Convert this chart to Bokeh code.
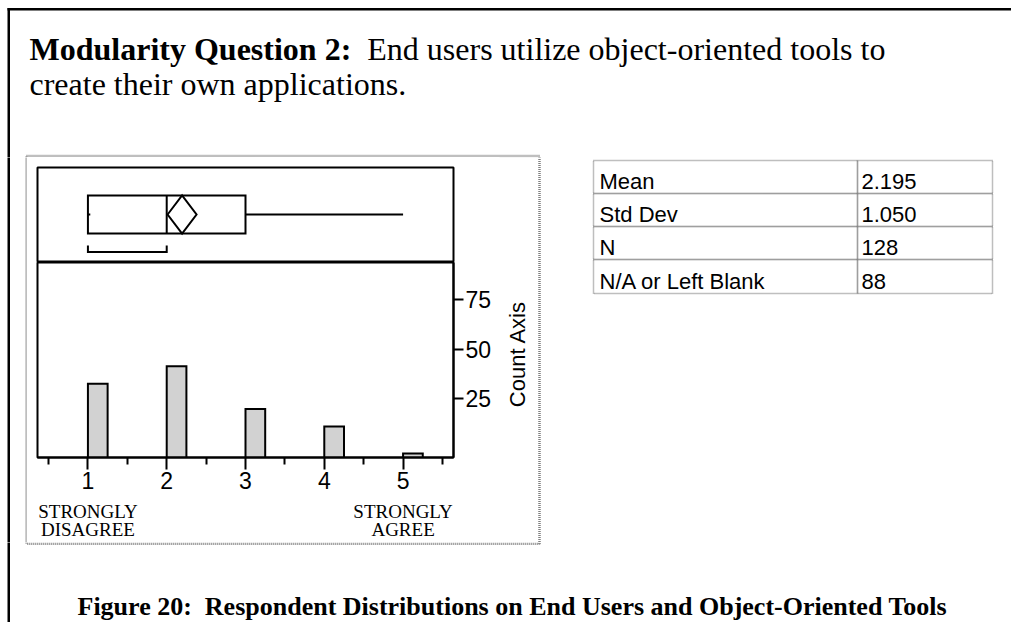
import math
import numpy as np
from bokeh.plotting import figure
from bokeh.layouts import column, row
from bokeh.models import Range1d, LinearAxis, FixedTicker
from bokeh.core.properties import value
from bokeh.embed import file_html
from bokeh.resources import INLINE

# ---------------- data ----------------
scores = [1, 2, 3, 4, 5]
counts = [38, 47, 25, 16, 2]
count_ticks = [25, 50, 75]
count_axis_label = "Count Axis"
stat_names = ["Mean", "Std Dev", "N", "N/A or Left Blank"]
stat_values = ["2.195", "1.050", "128", "88"]
mean_value = 2.195
std_value = 1.050
n_value = 128
anchor_top = {1: "STRONGLY", 5: "STRONGLY"}
anchor_bottom = {1: "DISAGREE", 5: "AGREE"}
title_bold = "Modularity Question 2:"
title_rest = "End users utilize object-oriented tools to"
title_line2 = "create their own applications."
caption_text = "Figure 20:\u00a0 Respondent Distributions on End Users and Object-Oriented Tools"

# derived box-plot statistics
obs = np.repeat(scores, counts)
q1, med, q3 = (float(v) for v in np.percentile(obs, [25, 50, 75]))
lo, hi = float(obs.min()), float(obs.max())
ci = 1.979 * std_value / math.sqrt(n_value)
half = len(obs) // 2
widths = obs[half - 1:] - obs[:len(obs) - half + 1]
k = int(np.argmin(widths))
sh_lo, sh_hi = float(obs[k]), float(obs[k + half - 1])

# ---------------- layout (canvas pixels) ----------------
W, H = 1011, 622
CL, CR = 27, 499          # chart column
FL, FR = 37, 453          # chart frame
FT, FD, FB = 167, 262, 457  # frame top, divider, baseline
Y_MID0, Y_MID1 = 157, 542  # middle row
SERIF = "Liberation Serif"
SANS = "Liberation Sans"
GREY = "#7f7f7f"


def base_fig(w, h, xr, yr, **kw):
    f = figure(width=w, height=h, x_range=xr, y_range=yr, title=None,
               toolbar_location=None, output_backend="svg",
               x_axis_location=None, y_axis_location=None, **kw)
    f.xgrid.visible = False
    f.ygrid.visible = False
    f.background_fill_color = "white"
    f.border_fill_color = "white"
    return f


def deco(x0, x1, y0, y1):
    f = base_fig(x1 - x0, y1 - y0, Range1d(x0, x1), Range1d(y1, y0),
                 min_border_left=0, min_border_right=0, min_border_top=0, min_border_bottom=0)
    f.outline_line_color = None
    # outer border (top and left)
    f.quad(left=[7, 7], right=[W, 9.5], top=[7.5, 7.5], bottom=[10, H],
           fill_color="black", line_color=None)
    # grey frame round the report
    f.quad(left=[26], right=[539], top=[155.5], bottom=[Y_MID1 + 1.3],
           fill_color=None, line_color=GREY, line_width=2.5, line_dash="1 1")
    return f


def txt(f, x, y, s, size, font=SANS, style="normal", align="left", **kw):
    f.text(x=[x], y=[y], text=[s], text_font=value(font), text_font_size=value(f"{size}px"),
           text_font_style=style, text_align=align, text_color="black", **kw)


# ---- top strip: title ----
top = deco(0, W, 0, Y_MID0)
TS = 32
txt(top, 29, 48, title_bold, TS, font=SERIF, style="bold", text_baseline="alphabetic")
txt(top, 29 + 10.556 * TS, 48, title_rest, TS, font=SERIF, text_baseline="alphabetic")
txt(top, 29, 83, title_line2, TS, font=SERIF, text_baseline="alphabetic")

# ---- left strip ----
left = deco(0, CL, Y_MID0, Y_MID1)

# ---- right side: count-axis title and statistics table ----
right = deco(CR, W, Y_MID0, Y_MID1)
txt(right, 516.5, (FD + FB) / 2 - 6, count_axis_label, 22, align="center",
    text_baseline="middle", angle=math.pi / 2)
TL, TD, TR = 593, 857, 992
rows = [160, 193, 226, 259, 293]
for j, (nm, vl) in enumerate(zip(stat_names, stat_values)):
    right.quad(left=[TL, TD], right=[TD, TR], top=[rows[j], rows[j]],
               bottom=[rows[j + 1], rows[j + 1]], fill_color=None,
               line_color=GREY, line_width=1.5, line_dash="1 1")
    txt(right, TL + 6, rows[j + 1] - 12, nm, 22, text_baseline="alphabetic")
    txt(right, TD + 4, rows[j + 1] - 12, vl, 22, text_baseline="alphabetic")

# ---- bottom strip: caption ----
bottom = deco(0, W, Y_MID1, H)
txt(bottom, 77, 606, caption_text, 26, font=SERIF, style="bold", text_baseline="alphabetic")

# ---------------- chart: box plot panel ----------------
xr = Range1d(0.36, 5.64)
BOX_H = FD - FT
boxfig = base_fig(CR - CL, FD - Y_MID0, xr, Range1d(0, BOX_H),
                  min_border_left=FL - CL, min_border_right=CR - FR,
                  min_border_top=FT - Y_MID0, min_border_bottom=0)
boxfig.outline_line_color = "black"
boxfig.outline_line_width = 2
B_LO, B_HI = FD - 233, FD - 195
B_C = (B_LO + B_HI) / 2
boxfig.quad(left=[q1], right=[q3], bottom=[B_LO], top=[B_HI],
            fill_color=None, line_color="black", line_width=2, line_join="miter")
boxfig.segment(x0=[med], x1=[med], y0=[B_LO], y1=[B_HI], line_color="black", line_width=2)
boxfig.patch(x=[mean_value - ci, mean_value, mean_value + ci, mean_value, mean_value - ci],
             y=[B_C, B_HI, B_C, B_LO, B_C],
             fill_color=None, line_color="black", line_width=2, line_join="miter")
boxfig.segment(x0=[q3], x1=[hi], y0=[B_C], y1=[B_C], line_color="black", line_width=2)
boxfig.segment(x0=[lo], x1=[lo + 0.03], y0=[B_C], y1=[B_C], line_color="black", line_width=2)
boxfig.line(x=[sh_lo, sh_lo, sh_hi, sh_hi], y=[FD - 245, FD - 251.5, FD - 251.5, FD - 245],
            line_color="black", line_width=2, line_join="miter")

# ---------------- chart: histogram panel ----------------
PX_PER_COUNT = 1.94
hist = base_fig(CR - CL, Y_MID1 - FD, xr, Range1d(0, (FB - FD) / PX_PER_COUNT),
                min_border_left=FL - CL, min_border_right=CR - FR,
                min_border_top=0, min_border_bottom=Y_MID1 - FB)
hist.outline_line_color = "black"
hist.outline_line_width = 2
# JMP's count axis sits a few counts below the bar base line
AX_PX, AX_ZERO = 1.98, 447.8
hist.extra_y_ranges = {"count_axis": Range1d(-(FB - AX_ZERO) / AX_PX, (AX_ZERO - FD) / AX_PX)}

bar_w = 0.25
hist.quad(left=scores, right=[s + bar_w for s in scores], bottom=0, top=counts,
          fill_color="#d2d2d2", line_color="black", line_width=2, line_join="miter")

xa = LinearAxis(ticker=FixedTicker(ticks=scores,
                                   minor_ticks=[s - 0.5 for s in scores] + [scores[-1] + 0.5]))
xa.axis_line_color = "black"
xa.axis_line_width = 2
xa.major_tick_line_width = 2
xa.minor_tick_line_width = 2
xa.major_tick_out = 12
xa.major_tick_in = 0
xa.minor_tick_out = 7
xa.minor_tick_in = 0
xa.major_label_standoff = 2
xa.major_label_text_font = SANS
xa.major_label_text_font_size = "23px"
xa.major_label_text_color = "black"
hist.add_layout(xa, "below")


def anchor_axis(labels, standoff):
    a = LinearAxis(ticker=FixedTicker(ticks=list(labels.keys())),
                   major_label_overrides=dict(labels))
    a.axis_line_color = None
    a.major_tick_line_color = None
    a.minor_tick_line_color = None
    a.major_tick_out = 0
    a.major_tick_in = 0
    a.major_label_standoff = standoff
    a.major_label_text_font = SERIF
    a.major_label_text_font_size = "19px"
    a.major_label_text_color = "black"
    return a


hist.add_layout(anchor_axis(anchor_top, 9), "below")
hist.add_layout(anchor_axis(anchor_bottom, -6), "below")

ca = LinearAxis(y_range_name="count_axis", ticker=FixedTicker(ticks=count_ticks))
ca.axis_line_color = "black"
ca.axis_line_width = 2
ca.major_tick_line_width = 2
ca.major_tick_out = 10
ca.major_tick_in = 0
ca.minor_tick_line_color = None
ca.major_label_standoff = 2
ca.major_label_text_font = SANS
ca.major_label_text_font_size = "23px"
ca.major_label_text_color = "black"
hist.add_layout(ca, "right")

chart = column(boxfig, hist, spacing=0)
middle = row(left, chart, right, spacing=0)
page = column(top, middle, bottom, spacing=0)

open("out.html", "w").write(file_html(page, INLINE))
